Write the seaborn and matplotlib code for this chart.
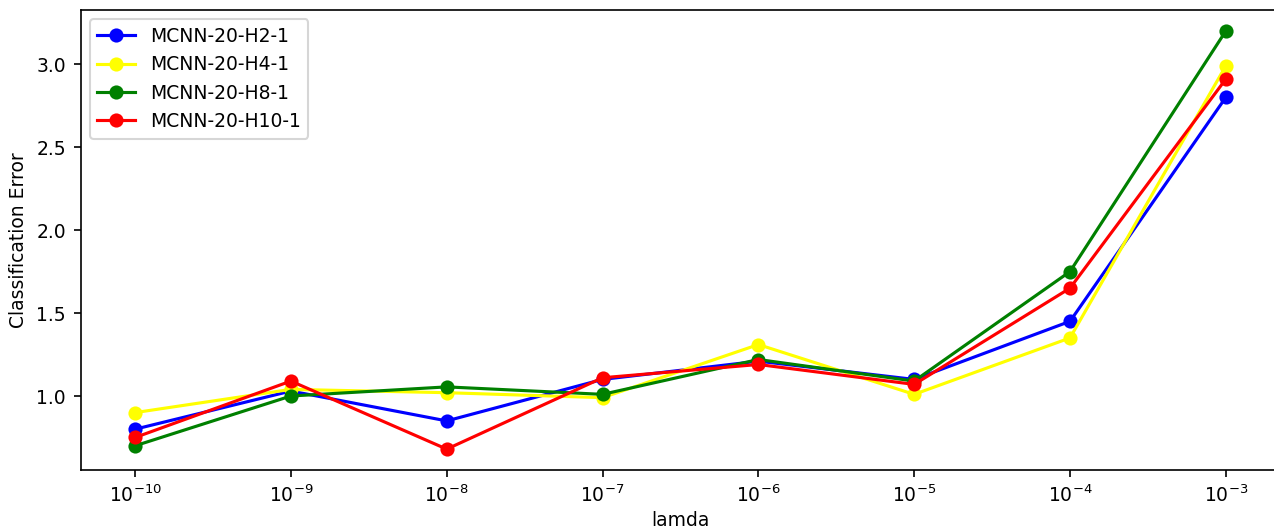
import numpy as np
import pandas as pd
import matplotlib
matplotlib.use("Agg")
import matplotlib.pyplot as plt
import matplotlib.ticker as mticker
import seaborn as sns

plt.rcParams["font.size"] = 9

lamda = [1e-10, 1e-9, 1e-8, 1e-7, 1e-6, 1e-5, 1e-4, 1e-3]
h2 = [0.80, 1.03, 0.85, 1.10, 1.21, 1.10, 1.45, 2.80]
h4 = [0.90, 1.04, 1.02, 0.99, 1.31, 1.01, 1.35, 2.99]
h8 = [0.70, 1.00, 1.055, 1.01, 1.22, 1.09, 1.75, 3.20]
h10 = [0.75, 1.09, 0.68, 1.11, 1.19, 1.07, 1.65, 2.91]

names = ["MCNN-20-H2-1", "MCNN-20-H4-1", "MCNN-20-H8-1", "MCNN-20-H10-1"]
colors = ["blue", "yellow", "green", "red"]

frames = []
for name, vals in zip(names, [h2, h4, h8, h10]):
    frames.append(pd.DataFrame({"lamda": lamda, "err": vals, "model": name}))
df = pd.concat(frames, ignore_index=True)

fig, ax = plt.subplots(figsize=(1274 / 150, 529 / 150), dpi=150)
sns.lineplot(data=df, x="lamda", y="err", hue="model", palette=colors,
             marker="o", markersize=6.8, markeredgewidth=0, linewidth=1.5,
             ax=ax)
ax.set_xscale("log")
ax.set_xticks(lamda)
ax.xaxis.set_minor_locator(mticker.NullLocator())
ax.set_xlabel("lamda", labelpad=2.5)
ax.set_ylabel("Classification Error")
ax.legend(loc="upper left", title=None)
fig.subplots_adjust(left=0.0632, right=1.005, top=0.981, bottom=0.1115)
fig.savefig("out.png", dpi=150)
